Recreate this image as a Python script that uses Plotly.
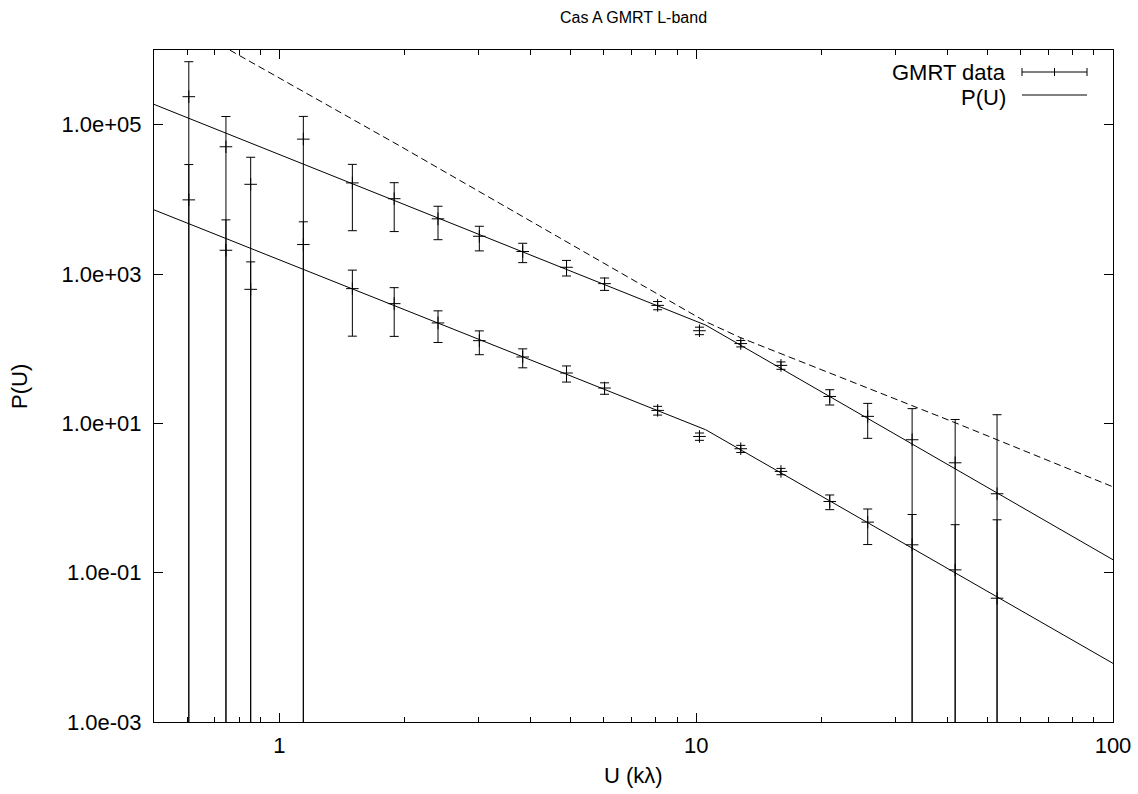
import math
import plotly.graph_objects as go

# ---------------- data ----------------
title_text = "Cas A GMRT L-band"
x_title = "U (kλ)"
y_title = "P(U)"

u_vals = [0.606, 0.744, 0.853, 1.141, 1.496, 1.885, 2.401, 3.017, 3.834, 4.884,
          6.026, 8.08, 10.18, 12.79, 15.97, 20.91, 25.79, 32.96, 41.81, 52.7]

p_upper = [2.37e5, 5.06e4, 1.59e4, 6.4e4, 1.66e4, 1.02e4, 5.48e3, 3.2e3, 2.0e3, 1.23e3,
           743, 380, 174, 117, 59.7, 22.9, 12.4, 6.03, 2.96, 1.14]
err_upper = [4.6e5, 7.8e4, 2.07e4, 6.5e4, 1.28e4, 6.5e3, 2.6e3, 1.16e3, 580, 290,
             140, 48, 20, 11.5, 6.8, 5.3, 6.1, 9.7, 8.3, 11.9]

p_lower = [9.84e3, 2.08e3, 623, 2.48e3, 637, 401, 221, 128, 77.4, 47.2,
           29.7, 14.9, 6.67, 4.57, 2.27, 0.898, 0.475, 0.236, 0.109, 0.0455]
err_lower = [1.94e4, 3.23e3, 830, 2.52e3, 490, 255, 100, 45, 22, 11.5,
             5.2, 2.0, 0.75, 0.5, 0.22, 0.2, 0.237, 0.365, 0.33, 0.465]

model_u = [0.5, 10.54, 100]
model_upper = [1.87e5, 206.6, 0.149]
model_lower = [7.23e3, 8.2, 0.0061]

dash_u = [0.760, 1.949, 5.894, 9.18, 10.54, 12.79, 21.05, 41.8, 100]
dash_p = [9.97e5, 5.15e4, 1.48e3, 365, 230, 140, 46.2, 10.2, 1.41]

x_tickvals = [1, 10, 100]
x_ticktext = ["1", "10", "100"]
x_minor = [0.6, 0.7, 0.8, 0.9, 2, 3, 4, 5, 6, 7, 8, 9, 20, 30, 40, 50, 60, 70, 80, 90]
y_tickvals = [1e-3, 1e-1, 1e1, 1e3, 1e5]
y_ticktext = ["1.0e-03", "1.0e-01", "1.0e+01", "1.0e+03", "1.0e+05"]

legend_labels = ["GMRT data", "P(U)"]

# ---------------- layout geometry ----------------
W, H = 1138, 794
ML, MR, MT, MB = 154, 25, 50, 72
PW, PH = W - ML - MR, H - MT - MB
FONT = "Liberation Sans, Arial, Helvetica, sans-serif"
BIG = 22
SMALL = 16


def px(x):
    return (x - ML) / PW


def py(y):
    return (H - MB - y) / PH


fig = go.Figure()

err_style = dict(type="data", symmetric=True, color="black", thickness=1, width=4.5)
mk = dict(symbol="cross-thin", size=9, color="black", line=dict(width=1, color="black"))

for pv, ev in ((p_upper, err_upper), (p_lower, err_lower)):
    fig.add_trace(go.Scatter(
        x=u_vals, y=pv, mode="markers", marker=mk,
        error_y=dict(array=ev, **err_style), showlegend=False))

for mv in (model_upper, model_lower):
    fig.add_trace(go.Scatter(x=model_u, y=mv, mode="lines",
                             line=dict(color="black", width=1), showlegend=False))

fig.add_trace(go.Scatter(x=dash_u, y=dash_p, mode="lines",
                         line=dict(color="black", width=1, dash="7px,4px"),
                         showlegend=False))

axis_common = dict(
    type="log", showline=True, linecolor="black", linewidth=1, mirror="allticks",
    ticks="inside", tickcolor="black", tickwidth=1, showgrid=False, zeroline=False,
    tickfont=dict(family=FONT, size=BIG, color="black"),
)

fig.update_xaxes(range=[math.log10(0.5), 2], tickmode="array", tickvals=x_tickvals,
                 ticktext=x_ticktext, ticklen=9, ticklabelstandoff=4,
                 minor=dict(tickmode="array", tickvals=x_minor, ticklen=5,
                            ticks="inside", tickcolor="black", tickwidth=1),
                 **axis_common)
fig.update_yaxes(range=[-3, 6], tickmode="array", tickvals=y_tickvals,
                 ticktext=y_ticktext, ticklen=9, ticklabelstandoff=7,
                 **axis_common)

annotations = [
    dict(text=title_text, x=0.5, y=py(18), xref="paper", yref="paper",
         showarrow=False, xanchor="center", yanchor="middle",
         font=dict(family=FONT, size=SMALL, color="black")),
    dict(text=x_title, x=0.5, y=py(775), xref="paper", yref="paper",
         showarrow=False, xanchor="center", yanchor="middle",
         font=dict(family=FONT, size=BIG, color="black")),
    dict(text=y_title, x=px(19), y=py(387), xref="paper", yref="paper",
         showarrow=False, xanchor="center", yanchor="middle", textangle=-90,
         font=dict(family=FONT, size=BIG, color="black")),
    dict(text=legend_labels[0], x=px(1008), y=py(72), xref="paper", yref="paper",
         showarrow=False, xanchor="right", yanchor="middle",
         font=dict(family=FONT, size=BIG, color="black")),
    dict(text=legend_labels[1], x=px(1008), y=py(97.5), xref="paper", yref="paper",
         showarrow=False, xanchor="right", yanchor="middle",
         font=dict(family=FONT, size=BIG, color="black")),
]

lk = dict(xref="paper", yref="paper", line=dict(color="black", width=1))
shapes = [
    dict(type="line", x0=px(1022), x1=px(1087), y0=py(72), y1=py(72), **lk),
    dict(type="line", x0=px(1022), x1=px(1022), y0=py(68), y1=py(76), **lk),
    dict(type="line", x0=px(1087), x1=px(1087), y0=py(68), y1=py(76), **lk),
    dict(type="line", x0=px(1054.5), x1=px(1054.5), y0=py(68), y1=py(76), **lk),
    dict(type="line", x0=px(1022), x1=px(1087), y0=py(95), y1=py(95), **lk),
]

fig.update_layout(
    width=W, height=H, margin=dict(l=ML, r=MR, t=MT, b=MB, autoexpand=False),
    paper_bgcolor="white", plot_bgcolor="white", showlegend=False,
    font=dict(family=FONT, size=BIG, color="black"),
    annotations=annotations, shapes=shapes,
)

fig.write_html("out.html")
